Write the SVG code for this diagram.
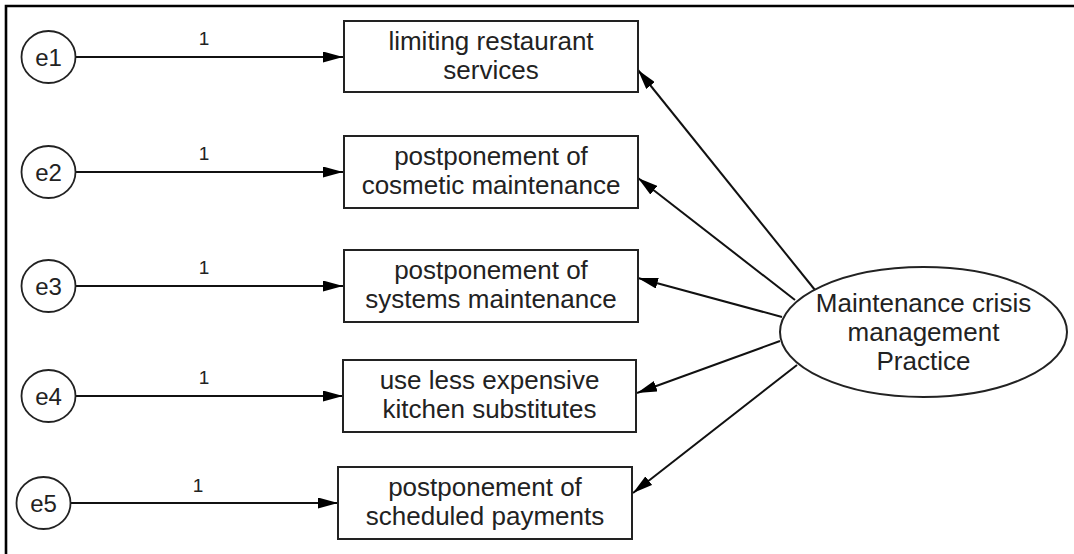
<svg xmlns="http://www.w3.org/2000/svg" width="1074" height="554" viewBox="0 0 1074 554">
  <style>
    .frame { stroke: #000; stroke-width: 2.6; fill: none; }
    .box { fill: #fff; stroke: #222; stroke-width: 2; }
    .err { fill: #fff; stroke: #222; stroke-width: 1.8; }
    .lat { fill: #fff; stroke: #222; stroke-width: 2; }
    .lbl { font-family: "Liberation Sans", Arial, sans-serif; font-size: 26px; fill: #222; text-anchor: middle; }
    .elbl { font-family: "Liberation Sans", Arial, sans-serif; font-size: 24px; fill: #222; text-anchor: middle; }
    .wt { font-family: "Liberation Sans", Arial, sans-serif; font-size: 19px; fill: #222; text-anchor: middle; }
    .edge { stroke: #111; stroke-width: 2; fill: none; marker-end: url(#arrow); }
  </style>
  <defs>
    <marker id="arrow" markerUnits="userSpaceOnUse" markerWidth="20" markerHeight="11" refX="20" refY="5.5" orient="auto">
      <path d="M0,0 L20,5.5 L0,11 z" fill="#000"/>
    </marker>
  </defs>

  <rect width="1074" height="554" fill="#fff"/>
  <!-- frame -->
  <path class="frame" d="M6,554 L6,6 L1074,6"/>

  <!-- connectors -->
  <g id="connectors">
    <line class="edge" x1="75.5" y1="57" x2="343" y2="57"/>
    <line class="edge" x1="75.5" y1="172" x2="343" y2="172"/>
    <line class="edge" x1="75.5" y1="286" x2="343" y2="286"/>
    <line class="edge" x1="75.5" y1="396" x2="343" y2="396"/>
    <line class="edge" x1="71" y1="503" x2="338" y2="503"/>
    <line class="edge" x1="815" y1="290" x2="638" y2="70"/>
    <line class="edge" x1="795" y1="300" x2="638" y2="178"/>
    <line class="edge" x1="782" y1="317" x2="638" y2="278"/>
    <line class="edge" x1="780" y1="341" x2="637" y2="393"/>
    <line class="edge" x1="797" y1="365" x2="633" y2="493"/>
    <text class="wt" x="204" y="45">1</text>
    <text class="wt" x="204" y="160">1</text>
    <text class="wt" x="204" y="274">1</text>
    <text class="wt" x="204" y="384">1</text>
    <text class="wt" x="198" y="492">1</text>
  </g>

  <!-- error terms -->
  <g id="e1"><ellipse class="err" cx="48.5" cy="57" rx="27" ry="26"/><text class="elbl" x="48.5" y="65.5">e1</text></g>
  <g id="e2"><ellipse class="err" cx="48.5" cy="172" rx="27" ry="26"/><text class="elbl" x="48.5" y="180.5">e2</text></g>
  <g id="e3"><ellipse class="err" cx="48.5" cy="286" rx="27" ry="26"/><text class="elbl" x="48.5" y="294.5">e3</text></g>
  <g id="e4"><ellipse class="err" cx="48.5" cy="396" rx="27" ry="26"/><text class="elbl" x="48.5" y="404.5">e4</text></g>
  <g id="e5"><ellipse class="err" cx="43.5" cy="503" rx="27" ry="26"/><text class="elbl" x="43.5" y="511.5">e5</text></g>

  <!-- observed indicators -->
  <g id="limiting-restaurant-services">
    <rect class="box" x="344" y="21" width="294" height="71"/>
    <text class="lbl" x="491" y="50">limiting restaurant</text>
    <text class="lbl" x="491" y="79">services</text>
  </g>
  <g id="postponement-cosmetic">
    <rect class="box" x="344" y="136" width="294" height="72"/>
    <text class="lbl" x="491" y="165">postponement of</text>
    <text class="lbl" x="491" y="194">cosmetic maintenance</text>
  </g>
  <g id="postponement-systems">
    <rect class="box" x="344" y="250" width="294" height="72"/>
    <text class="lbl" x="491" y="279">postponement of</text>
    <text class="lbl" x="491" y="308">systems maintenance</text>
  </g>
  <g id="less-expensive-substitutes">
    <rect class="box" x="343" y="360" width="293" height="72"/>
    <text class="lbl" x="489.5" y="389">use less expensive</text>
    <text class="lbl" x="489.5" y="418">kitchen substitutes</text>
  </g>
  <g id="postponement-payments">
    <rect class="box" x="338" y="467" width="294" height="72"/>
    <text class="lbl" x="485" y="496">postponement of</text>
    <text class="lbl" x="485" y="525">scheduled payments</text>
  </g>

  <!-- latent factor -->
  <g id="maintenance-crisis-management">
    <ellipse class="lat" cx="923.5" cy="332" rx="143.5" ry="65"/>
    <text class="lbl" x="923.5" y="312">Maintenance crisis</text>
    <text class="lbl" x="923.5" y="341">management</text>
    <text class="lbl" x="923.5" y="370">Practice</text>
  </g>
</svg>
